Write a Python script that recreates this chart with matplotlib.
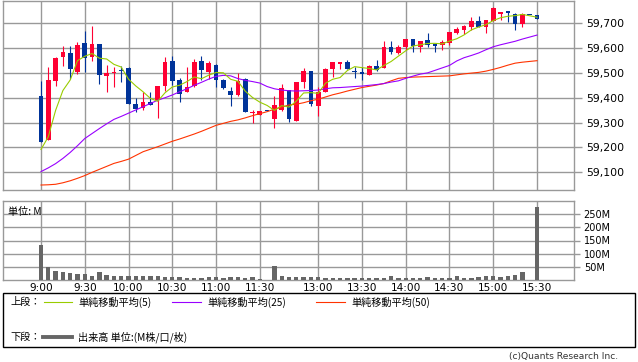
import matplotlib
matplotlib.use("Agg")
import matplotlib.pyplot as plt
import numpy as np
import pandas as pd
from matplotlib.patches import Rectangle
from matplotlib.lines import Line2D
from matplotlib.ticker import FuncFormatter

plt.rcParams['font.family'] = ['DejaVu Sans']
JP = ['Noto Sans CJK JP', 'DejaVu Sans']

# ---------------- data (5-minute bars) ----------------
opens = [59409, 59229, 59467, 59563, 59578, 59503, 59621, 59563, 59618, 59486,
         59500, 59509, 59518, 59373, 59358, 59381, 59389, 59449, 59549, 59472,
         59425, 59446, 59548, 59505, 59530, 59473, 59429, 59413, 59474, 59339,
         59331, 59345, 59313, 59349, 59432, 59307, 59463, 59509, 59365, 59424,
         59517, 59536, 59545, 59509, 59503, 59492, 59528, 59519, 59604, 59579,
         59603, 59636, 59603, 59632, 59615, 59612, 59619, 59659, 59673, 59685,
         59707, 59683, 59707, 59736, 59749, 59736, 59696, 59732, 59732]
highs = [59469, 59525, 59563, 59609, 59609, 59624, 59669, 59689, 59618, 59533,
         59525, 59529, 59523, 59400, 59423, 59423, 59449, 59565, 59569, 59479,
         59523, 59555, 59566, 59549, 59537, 59475, 59445, 59500, 59478, 59352,
         59345, 59345, 59405, 59456, 59432, 59465, 59518, 59509, 59445, 59519,
         59545, 59545, 59553, 59525, 59523, 59532, 59553, 59627, 59629, 59612,
         59636, 59637, 59629, 59661, 59615, 59632, 59665, 59685, 59693, 59725,
         59729, 59712, 59765, 59745, 59749, 59740, 59739, 59732, 59732]
lows = [59223, 59229, 59449, 59527, 59476, 59494, 59504, 59547, 59454, 59423,
        59443, 59463, 59374, 59343, 59350, 59370, 59319, 59427, 59453, 59383,
        59423, 59445, 59472, 59476, 59443, 59435, 59367, 59405, 59343, 59299,
        59331, 59345, 59279, 59347, 59301, 59307, 59440, 59367, 59327, 59424,
        59483, 59516, 59515, 59480, 59473, 59492, 59507, 59519, 59576, 59576,
        59592, 59585, 59583, 59603, 59583, 59592, 59612, 59655, 59656, 59672,
        59683, 59659, 59707, 59712, 59703, 59672, 59683, 59732, 59716]
closes = [59223, 59473, 59561, 59585, 59514, 59613, 59560, 59618, 59490, 59498,
          59505, 59506, 59374, 59353, 59381, 59372, 59449, 59545, 59469, 59416,
          59445, 59542, 59510, 59541, 59470, 59439, 59411, 59469, 59343, 59343,
          59345, 59345, 59369, 59440, 59313, 59465, 59509, 59376, 59425, 59517,
          59545, 59543, 59517, 59503, 59497, 59529, 59513, 59605, 59585, 59605,
          59636, 59609, 59629, 59612, 59608, 59625, 59665, 59676, 59689, 59709,
          59683, 59712, 59759, 59745, 59739, 59696, 59736, 59732, 59716]
# volume in millions
volumes = [133, 48, 34, 30, 27, 22, 22, 17, 30, 18,
           15, 15, 15, 15, 15, 15, 14, 12, 12, 12,
           8, 8, 8, 12, 12, 8, 12, 12, 8, 12,
           4, 0, 53, 15, 12, 12, 12, 12, 12, 8,
           8, 8, 8, 8, 8, 8, 8, 8, 15, 8,
           8, 8, 8, 12, 8, 8, 8, 15, 8, 8,
           12, 15, 15, 12, 17, 20, 30, 0, 277]
# moving averages (include previous-session data)
ma5_head = [59192, 59243, 59349, 59429]
ma25 = [59103, 59118, 59135, 59156, 59180, 59207, 59236, 59256, 59276, 59295,
        59313, 59325, 59338, 59351, 59364, 59377, 59390, 59400, 59411, 59424,
        59436, 59450, 59462, 59475, 59486, 59490, 59488, 59477, 59470, 59465,
        59459, 59445, 59436, 59431, 59428, 59427, 59428, 59429, 59431, 59436,
        59440, 59441, 59443, 59445, 59447, 59450, 59453, 59457, 59463, 59468,
        59478, 59487, 59495, 59500, 59510, 59520, 59530, 59548, 59561, 59570,
        59580, 59593, 59605, 59613, 59620, 59627, 59636, 59644, 59652]
ma50 = [59049, 59050, 59052, 59058, 59066, 59076, 59087, 59100, 59112, 59124,
        59136, 59144, 59153, 59168, 59183, 59193, 59203, 59214, 59225, 59234,
        59244, 59254, 59265, 59277, 59289, 59297, 59305, 59311, 59319, 59328,
        59336, 59344, 59354, 59362, 59371, 59374, 59380, 59388, 59394, 59403,
        59412, 59419, 59427, 59434, 59441, 59446, 59451, 59457, 59468, 59478,
        59481, 59483, 59484, 59485, 59486, 59487, 59488, 59492, 59496, 59499,
        59502, 59507, 59514, 59522, 59531, 59539, 59543, 59546, 59549]
# bar direction (True = up/red)
up = [False, True, True, True, False, True, False, True, False, True,
      True, False, False, False, True, False, True, True, False, False,
      True, True, False, True, False, False, False, True, False, True,
      True, False, True, True, False, True, True, False, True, True,
      True, True, False, False, False, True, False, True, False, True,
      True, False, True, False, False, True, True, True, True, True,
      False, True, True, True, False, False, True, False, False]

tick_labels = ["9:00", "9:30", "10:00", "10:30", "11:00", "11:30",
               "13:00", "13:30", "14:00", "14:30", "15:00", "15:30"]
tick_slots = [0, 6, 12, 18, 24, 30, 38, 44, 50, 56, 62, 68]
price_ticks = [59100, 59200, 59300, 59400, 59500, 59600, 59700]
vol_ticks = [50, 100, 150, 200, 250]

legend_ma = ["単純移動平均(5)", "単純移動平均(25)", "単純移動平均(50)"]

# ---------------- styling ----------------
RED = '#ff0033'
BLUE = '#003399'
C5 = '#99cc00'
C25 = '#9900ff'
C50 = '#ff3300'
GRID = '#999999'
VOLC = '#666666'

W, H = 638, 362
fig = plt.figure(figsize=(W / 100, H / 100), dpi=100)
fig.patch.set_facecolor('white')


def fx(px):
    return px / W


def fy(py):
    return 1 - py / H


ax = fig.add_axes([fx(3), fy(190), fx(574) - fx(3), fy(1) - fy(190)])
axv = fig.add_axes([fx(3), fy(280), fx(574) - fx(3), fy(201) - fy(280)])

n = len(closes)
x = np.arange(n)
XL = (-5.21, 73.07)

# candles
for i in range(n):
    col = RED if up[i] else BLUE
    ax.vlines(i, lows[i], highs[i], color=col, lw=0.8, zorder=3)
    lo = min(opens[i], closes[i])
    hgt = max(abs(closes[i] - opens[i]), 5)
    ax.bar(i, hgt, bottom=lo, width=0.64, color=col, linewidth=0, zorder=4)

ma5 = pd.Series(closes, dtype=float).rolling(5).mean().to_numpy()
ma5[:4] = ma5_head
ax.plot(x, ma50, color=C50, lw=0.8, zorder=5)
ax.plot(x, ma25, color=C25, lw=0.8, zorder=5)
ax.plot(x, ma5, color=C5, lw=0.8, zorder=6)

ax.set_xlim(*XL)
ax.set_ylim(59029, 59789)
ax.set_yticks(price_ticks)
ax.yaxis.set_major_formatter(FuncFormatter(lambda v, p: f"{v:,.0f}"))
ax.set_xticks(tick_slots)
ax.set_xticklabels([])
ax.grid(True, color=GRID, lw=1.0, zorder=0)
ax.set_axisbelow(True)
ax.tick_params(axis='y', left=False, right=True, labelleft=False, labelright=True,
               length=6, width=1.0, color=GRID, labelsize=7.8, pad=3)
ax.tick_params(axis='x', length=0)
for s in ax.spines.values():
    s.set_color(GRID)
    s.set_linewidth(1.0)

# volume
axv.bar(x, volumes, width=0.6, color=VOLC, linewidth=0, zorder=3)
axv.set_xlim(*XL)
axv.set_ylim(0, 300)
axv.set_yticks(vol_ticks)
axv.set_yticklabels([f"{v}M" for v in vol_ticks])
axv.set_xticks(tick_slots)
axv.set_xticklabels(tick_labels)
axv.grid(True, color=GRID, lw=1.0, zorder=0)
axv.set_axisbelow(True)
axv.tick_params(axis='y', left=False, right=True, labelleft=False, labelright=True,
                length=4, width=1.0, color=GRID, labelsize=7, pad=3)
axv.tick_params(axis='x', length=0, labelsize=7.6, pad=2)
for s in axv.spines.values():
    s.set_color(GRID)
    s.set_linewidth(1.0)
axv.text(0.008, 0.93, "単位: M", transform=axv.transAxes, family=JP,
         fontsize=7.3, va='top', ha='left')

# legend box
fig.add_artist(Rectangle((fx(3), fy(347)), fx(635) - fx(3), fy(293) - fy(347),
                         transform=fig.transFigure, fill=False, edgecolor='black', lw=1.0))
r1, r2 = 302, 337
fig.text(fx(10), fy(r1), "上段：", family=JP, fontsize=7.3, va='center', ha='left')
fig.text(fx(10), fy(r2), "下段：", family=JP, fontsize=7.3, va='center', ha='left')
line_specs = [(44, 72, C5), (172, 201, C25), (316, 345, C50)]
text_x = [78, 207, 351]
for (a, b, c), tx, lab in zip(line_specs, text_x, legend_ma):
    fig.add_artist(Line2D([fx(a), fx(b)], [fy(r1), fy(r1)], color=c, lw=0.8,
                          transform=fig.transFigure))
    fig.text(fx(tx), fy(r1), lab, family=JP, fontsize=7.3, va='center', ha='left')
fig.add_artist(Line2D([fx(43), fx(72)], [fy(r2), fy(r2)], color=VOLC, lw=2.8,
                      transform=fig.transFigure))
fig.text(fx(78), fy(r2), "出来高 単位:(M株/口/枚)", family=JP, fontsize=7.3,
         va='center', ha='left')
fig.text(fx(618), fy(356), "(c)Quants Research Inc.", fontsize=6.6,
         va='center', ha='right', color='#333333')

fig.savefig("out.png", dpi=100, facecolor='white')
